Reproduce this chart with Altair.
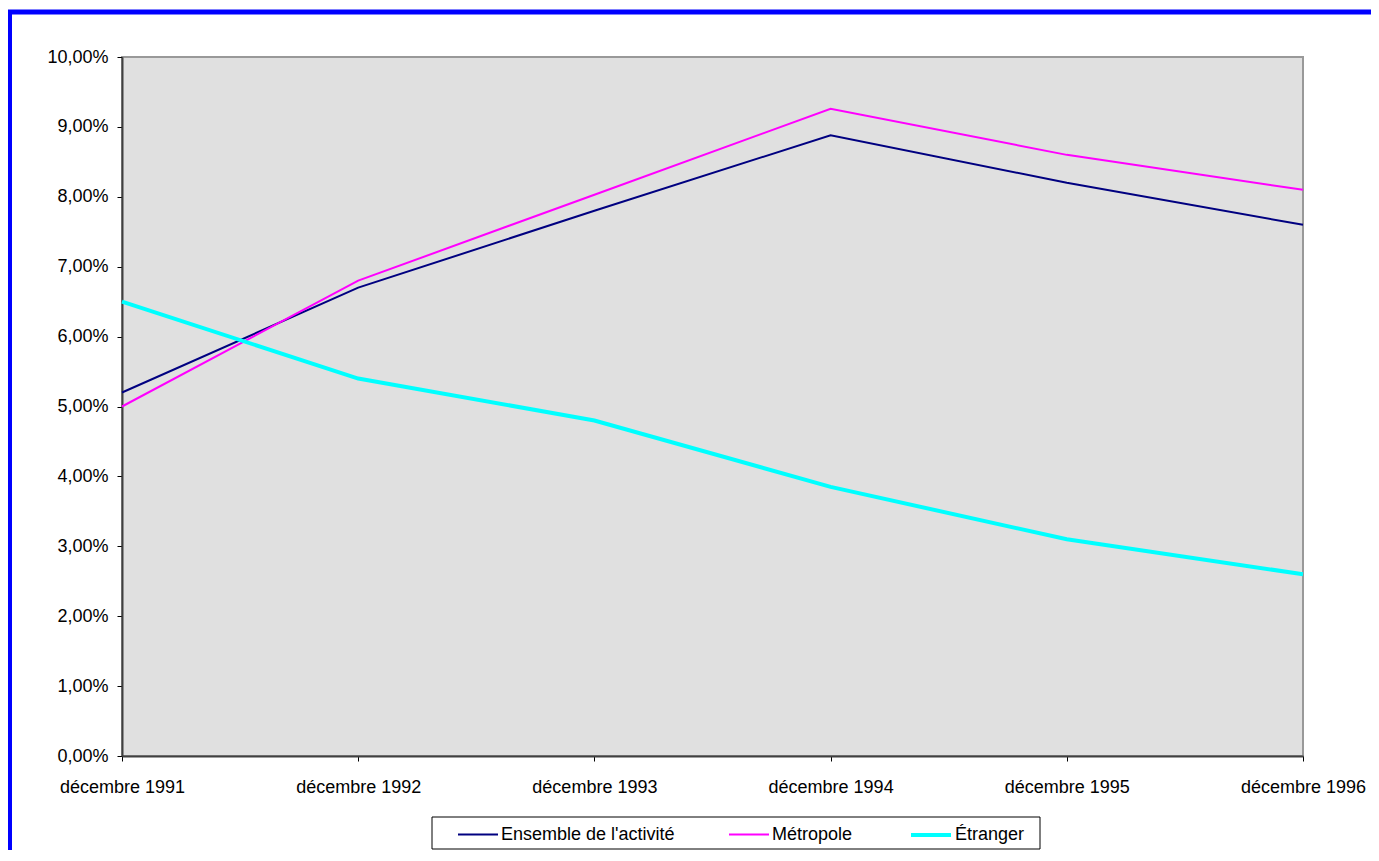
import altair as alt
import pandas as pd

months = ["décembre 1991", "décembre 1992", "décembre 1993",
          "décembre 1994", "décembre 1995", "décembre 1996"]
series_names = ["Ensemble de l'activité", "Métropole", "Étranger"]
ensemble = [0.052, 0.067, 0.078, 0.0888, 0.082, 0.076]
metropole = [0.050, 0.068, 0.0803, 0.0926, 0.086, 0.081]
etranger = [0.065, 0.054, 0.048, 0.0385, 0.031, 0.026]
y_ticks = [0.00, 0.01, 0.02, 0.03, 0.04, 0.05, 0.06, 0.07, 0.08, 0.09, 0.10]
colors = ["#000080", "#FF00FF", "#00FFFF"]
widths = [2, 2, 4]

rows = []
for name, vals in zip(series_names, [ensemble, metropole, etranger]):
    for m, v in zip(months, vals):
        rows.append({"mois": m, "serie": name, "taux": v})
df = pd.DataFrame(rows)

W, H = 1181, 699
PAD_L, PAD_T = 114, 49
SVG_W, SVG_H = 1363, 842
FONT = "Liberation Sans"

legend_props = dict(
    title=None, orient="none", legendX=335, legendY=756,
    direction="horizontal", symbolType="stroke", symbolSize=1600,
    labelFont=FONT, labelFontSize=18, labelColor="#000000",
    labelLimit=400, labelOffset=2, columnPadding=50, padding=0,
)

lines = alt.Chart(df).mark_line().encode(
    x=alt.X("mois:N", sort=months,
            scale=alt.Scale(type="point", padding=0),
            axis=alt.Axis(title=None, labelAngle=0, labelFont=FONT, labelFontSize=18,
                          labelColor="#000000", labelPadding=17, labelOverlap=False,
                          labelFlush=False, tickColor="#000000", tickSize=5,
                          domainColor="#404040", domainWidth=2)),
    y=alt.Y("taux:Q",
            scale=alt.Scale(domain=[0, 0.1], nice=False, zero=True),
            axis=alt.Axis(title=None, values=y_ticks, grid=False,
                          labelExpr="replace(format(datum.value, '.2%'), '.', ',')",
                          labelFont=FONT, labelFontSize=18, labelColor="#000000",
                          labelPadding=9, tickColor="#000000", tickSize=5,
                          domainColor="#404040", domainWidth=2)),
    color=alt.Color("serie:N", scale=alt.Scale(domain=series_names, range=colors),
                    legend=alt.Legend(**legend_props)),
    strokeWidth=alt.StrokeWidth("serie:N",
                                scale=alt.Scale(type="ordinal", domain=series_names, range=widths),
                                legend=alt.Legend(**legend_props)),
)

one = alt.Data(values=[{"k": 1}])

border = alt.Chart(one).mark_rect(filled=False, stroke="#0000FF", strokeWidth=5).encode(
    x=alt.value(-112.5), x2=alt.value(1400), y=alt.value(-45), y2=alt.value(950)
)

legend_box = alt.Chart(one).mark_rect(fill="#FFFFFF", stroke="#000000", strokeWidth=1).encode(
    x=alt.value(310), x2=alt.value(918), y=alt.value(760), y2=alt.value(792)
)

chart = alt.layer(border, legend_box, lines).properties(
    width=W, height=H,
    autosize=alt.AutoSizeParams(type="none"),
    padding={"left": PAD_L, "top": PAD_T, "right": SVG_W - PAD_L - W, "bottom": SVG_H - PAD_T - H},
    background="#FFFFFF",
).configure_view(
    fill="#E0E0E0", stroke="#999999", strokeWidth=2
)

chart.save("out.html", embed_options={"renderer": "svg", "actions": False})
